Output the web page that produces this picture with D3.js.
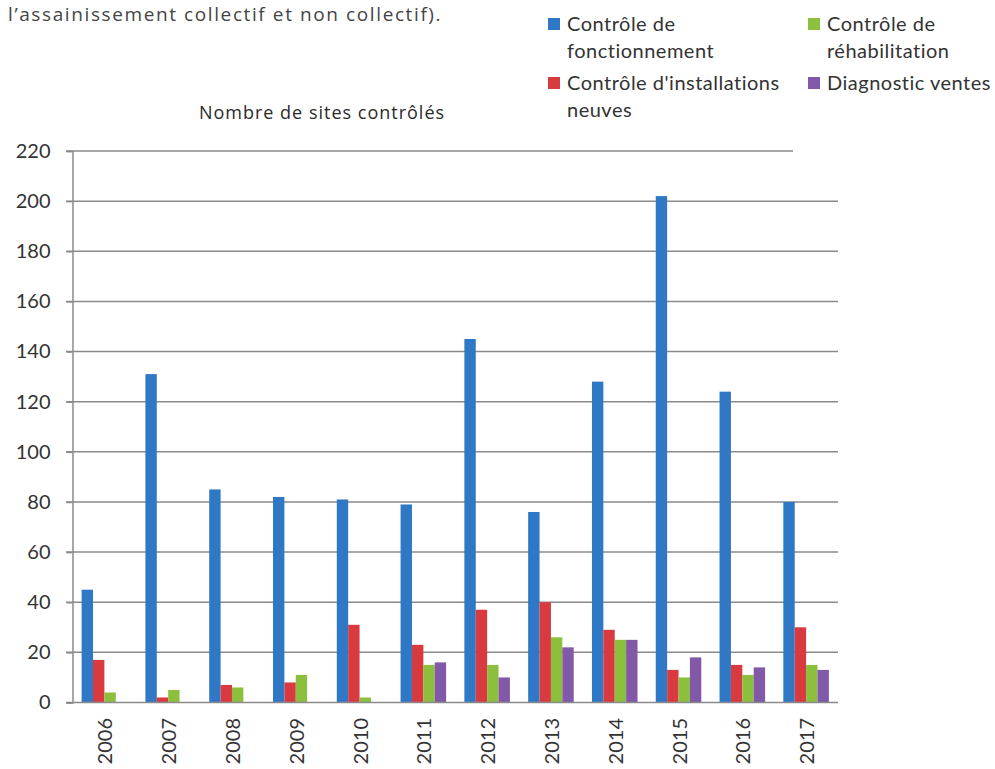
<!DOCTYPE html>
<html>
<head>
<meta charset="utf-8">
<script src="https://cdn.jsdelivr.net/npm/d3@7"></script>
<style>
  body { margin: 0; background: #fff; }
</style>
</head>
<body>
<div id="chart"></div>
<script>
// Data
const years = ["2006", "2007", "2008", "2009", "2010", "2011", "2012", "2013", "2014", "2015", "2016", "2017"];
const seriesNames = ["Contrôle de fonctionnement", "Contrôle d'installations neuves", "Contrôle de réhabilitation", "Diagnostic ventes"];
const fonctionnement = [45, 131, 85, 82, 81, 79, 145, 76, 128, 202, 124, 80];
const installations = [17, 2, 7, 8, 31, 23, 37, 40, 29, 13, 15, 30];
const rehabilitation = [4, 5, 6, 11, 2, 15, 15, 26, 25, 10, 11, 15];
const diagnostic = [0, 0, 0, 0, 0, 16, 10, 22, 25, 18, 14, 13];
const yTicks = [0, 20, 40, 60, 80, 100, 120, 140, 160, 180, 200, 220];

const colors = ["#2f78c6", "#d93a40", "#8cbf3e", "#8259a8"];
const allSeries = [fonctionnement, installations, rehabilitation, diagnostic];

const W = 995, H = 769;
const svg = d3.select("#chart").append("svg")
    .attr("width", W)
    .attr("height", H)
    .style("background-color", "white");

// Scales
const x = d3.scaleBand()
    .domain(years)
    .range([72.5, 838])
    .paddingInner(0.286)
    .paddingOuter(0.143);
const xs = d3.scaleBand()
    .domain(d3.range(4))
    .range([0, x.bandwidth()]);
const y = d3.scaleLinear()
    .domain([0, 220])
    .range([702.5, 151]);

// intro text
svg.append("text")
    .attr("x", 8).attr("y", 21)
    .style("font-family", "'Open Sans', sans-serif")
    .style("font-size", "19px")
    .style("letter-spacing", "1.6px")
    .attr("fill", "#444")
    .text("l\u2019assainissement collectif et non collectif).");

// title
svg.append("text")
    .attr("x", 322).attr("y", 119)
    .attr("text-anchor", "middle")
    .style("font-family", "'Open Sans', sans-serif")
    .style("font-size", "18px")
    .style("letter-spacing", "1px")
    .attr("fill", "#2a2a2a")
    .text("Nombre de sites contrôlés");

// gridlines
svg.append("g")
    .selectAll("line")
    .data(yTicks.filter(d => d > 0))
    .join("line")
    .attr("x1", 66).attr("x2", d => d === 220 ? 793 : 838)
    .attr("y1", d => y(d)).attr("y2", d => y(d))
    .attr("stroke", "#8a8a8a")
    .attr("stroke-width", 1.5);

// y axis
const yAxis = svg.append("g")
    .attr("transform", "translate(72.5,0)")
    .call(d3.axisLeft(y).tickValues(yTicks).tickSize(6).tickPadding(16));
yAxis.select(".domain").attr("stroke", "#8a8a8a").attr("stroke-width", 1.5);
yAxis.selectAll(".tick line").attr("stroke", "#8a8a8a").attr("stroke-width", 1.5);
yAxis.selectAll("text")
    .style("font-family", "Lato, sans-serif")
    .style("font-size", "20px")
    .attr("fill", "#333");

// bars
const groups = svg.append("g")
    .selectAll("g")
    .data(years)
    .join("g")
    .attr("transform", d => `translate(${x(d)},0)`);

groups.selectAll("rect")
    .data((yr, i) => allSeries.map((s, k) => ({ k: k, v: s[i] })))
    .join("rect")
    .attr("x", d => xs(d.k))
    .attr("width", xs.bandwidth())
    .attr("y", d => y(d.v))
    .attr("height", d => y(0) - y(d.v))
    .attr("fill", d => colors[d.k]);

// x axis line
svg.append("line")
    .attr("x1", 66).attr("x2", 838)
    .attr("y1", y(0)).attr("y2", y(0))
    .attr("stroke", "#8a8a8a")
    .attr("stroke-width", 1.5);

// year labels
svg.append("g")
    .selectAll("text")
    .data(years)
    .join("text")
    .attr("transform", d => `translate(${x(d) + x.bandwidth() / 2 + 1},718) rotate(-90)`)
    .attr("text-anchor", "end")
    .attr("dy", "0.35em")
    .style("font-family", "Lato, sans-serif")
    .style("font-size", "20px")
    .attr("fill", "#333")
    .text(d => d);

// legend
const legendItems = [
    { i: 0, x: 548, y: 31, lines: ["Contrôle de", "fonctionnement"] },
    { i: 1, x: 548, y: 90, lines: ["Contrôle d'installations", "neuves"] },
    { i: 2, x: 808, y: 31, lines: ["Contrôle de", "réhabilitation"] },
    { i: 3, x: 808, y: 90, lines: ["Diagnostic ventes"] }
];
const legend = svg.append("g");
legendItems.forEach(it => {
    legend.append("rect")
        .attr("x", it.x).attr("y", it.y - 13)
        .attr("width", 12).attr("height", 12)
        .attr("fill", colors[it.i]);
    const t = legend.append("text")
        .attr("x", it.x + 19).attr("y", it.y)
        .style("font-family", "Lato, sans-serif")
        .style("font-size", "20px")
        .style("letter-spacing", "0.5px")
        .attr("fill", "#333");
    it.lines.forEach((l, j) => {
        t.append("tspan")
            .attr("x", it.x + 19)
            .attr("dy", j === 0 ? 0 : 27)
            .text(l);
    });
});
</script>
</body>
</html>
